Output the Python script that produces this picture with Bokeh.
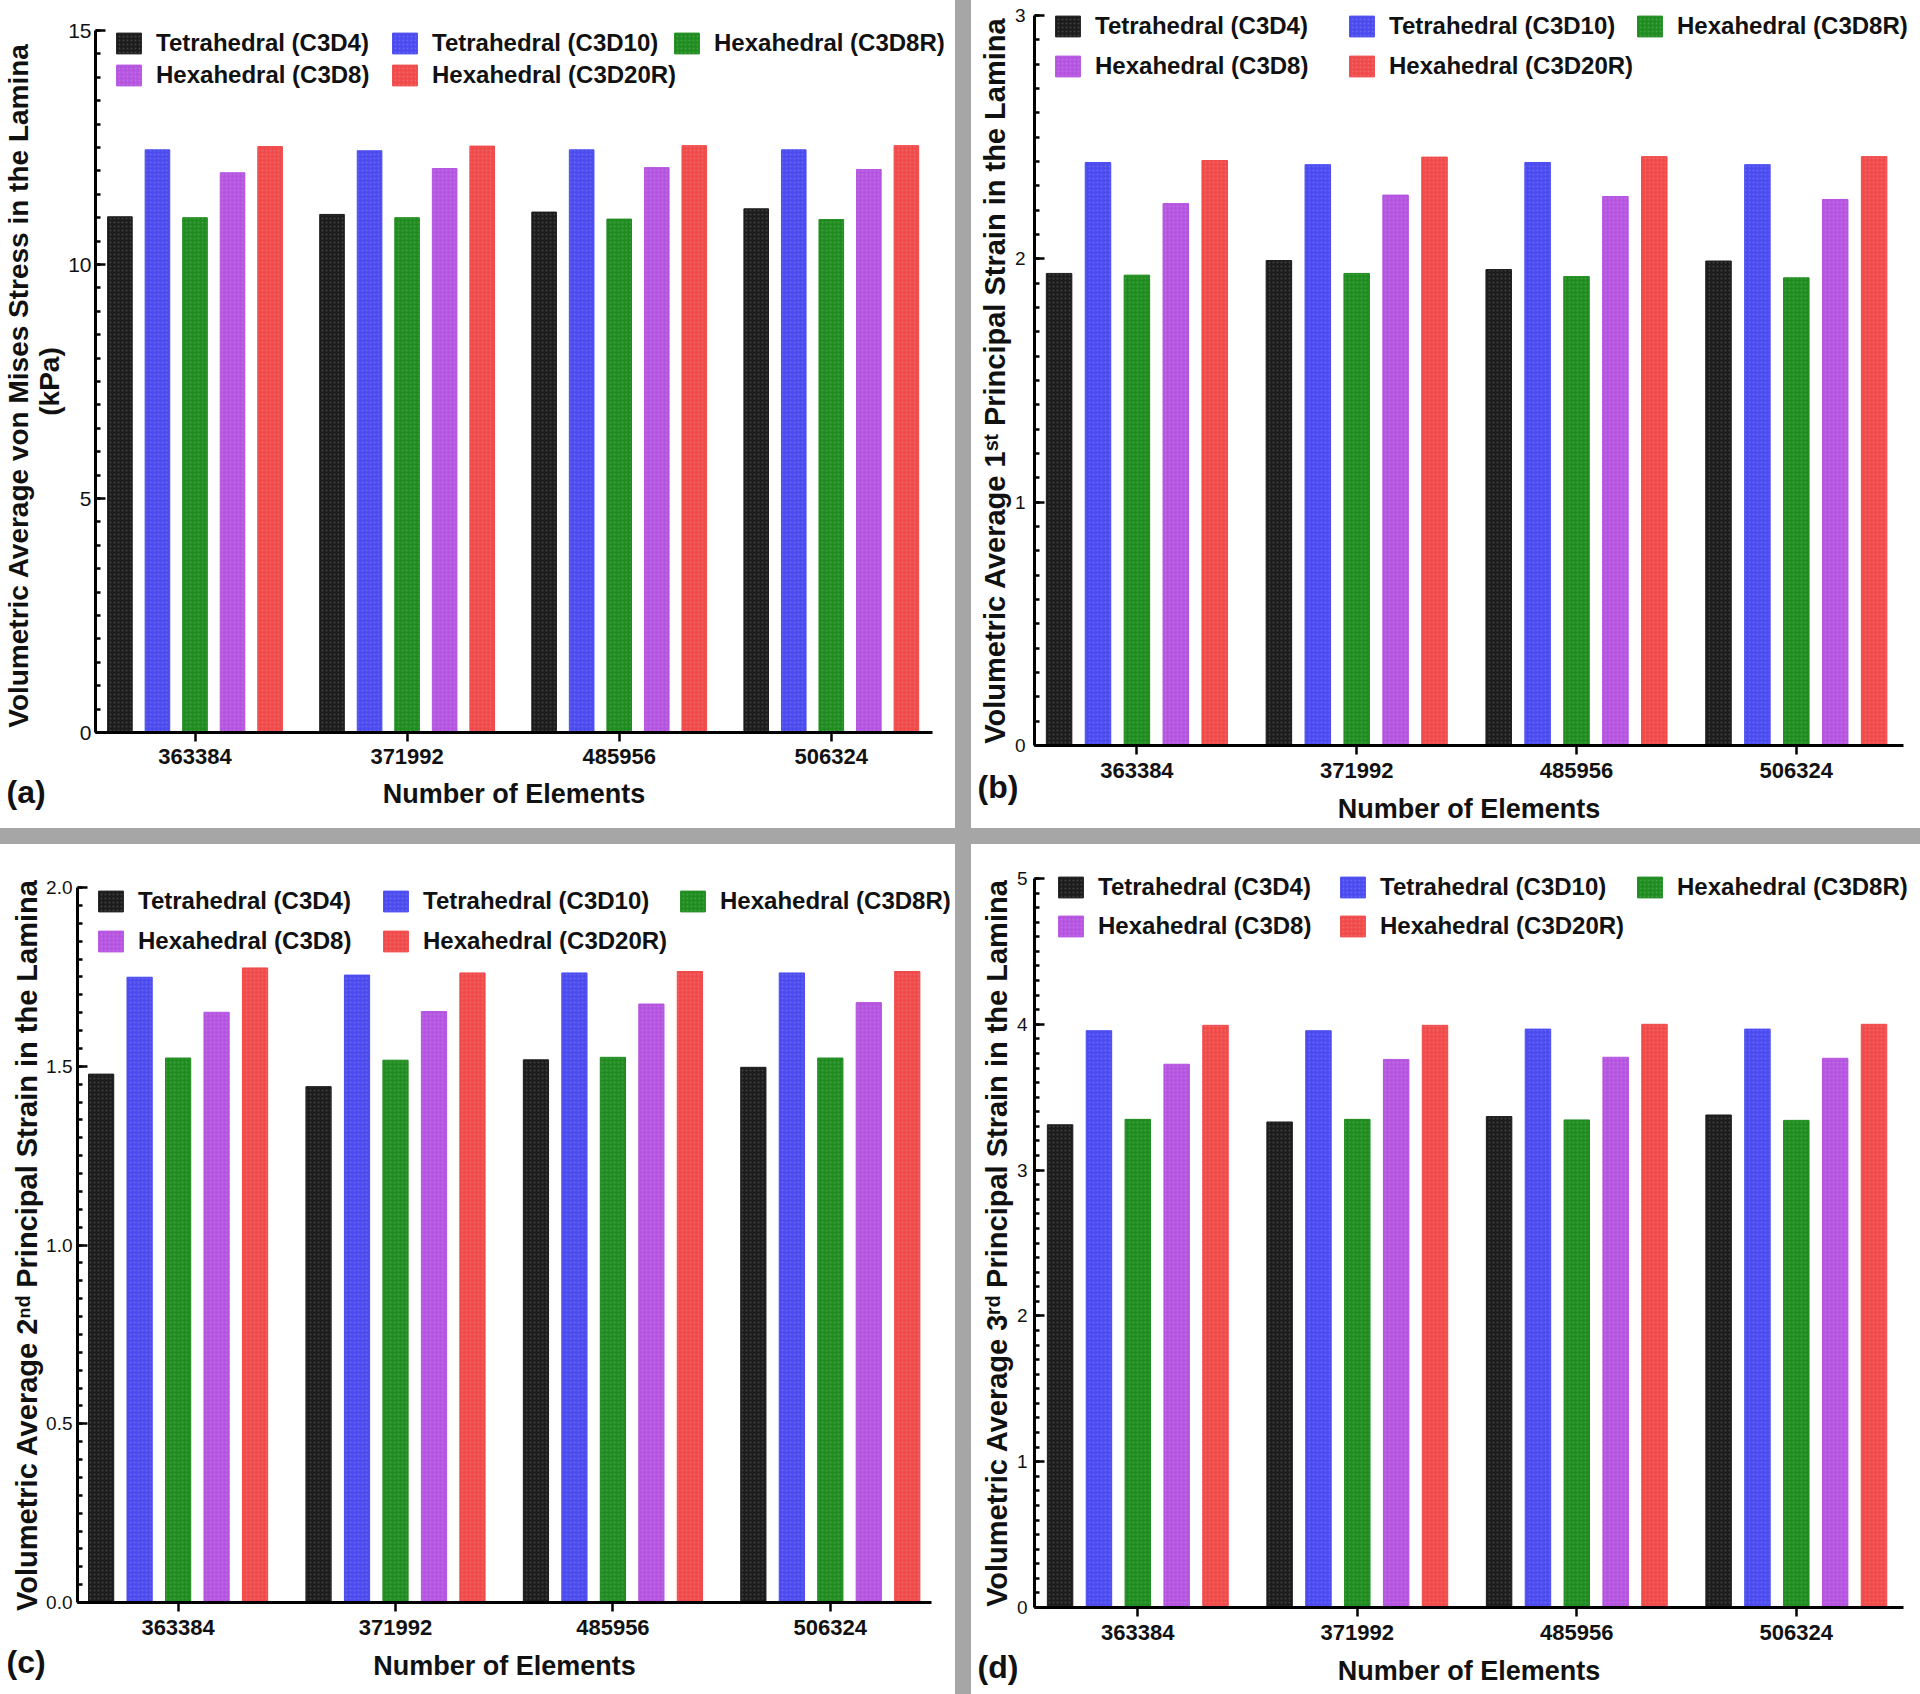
from bokeh.plotting import figure
from bokeh.models import (ColumnDataSource, Range1d, FixedTicker, SingleIntervalTicker,
                          Legend, LegendItem, Label, Spacer, PrintfTickFormatter)
from bokeh.layouts import row, column
from bokeh.embed import file_html
from bokeh.resources import INLINE

# ---------------- data ----------------
categories = ["363384", "371992", "485956", "506324"]
series_names = ["Tetrahedral (C3D4)", "Tetrahedral (C3D10)", "Hexahedral (C3D8R)",
                "Hexahedral (C3D8)", "Hexahedral (C3D20R)"]
series_colors = ["#1c1c1c", "#4b4bf0", "#1f8c1f", "#b554e0", "#f04a4a"]

# (a) volumetric average von Mises stress (kPa)
vm_c3d4 = [11.02, 11.07, 11.12, 11.19]
vm_c3d10 = [12.45, 12.43, 12.45, 12.45]
vm_c3d8r = [11.00, 11.00, 10.97, 10.96]
vm_c3d8 = [11.96, 12.05, 12.07, 12.03]
vm_c3d20r = [12.52, 12.53, 12.54, 12.54]

# (b) 1st principal strain
e1_c3d4 = [1.940, 1.993, 1.956, 1.991]
e1_c3d10 = [2.396, 2.387, 2.396, 2.387]
e1_c3d8r = [1.933, 1.940, 1.927, 1.922]
e1_c3d8 = [2.227, 2.262, 2.256, 2.244]
e1_c3d20r = [2.404, 2.418, 2.420, 2.420]

# (c) 2nd principal strain
e2_c3d4 = [1.478, 1.443, 1.518, 1.497]
e2_c3d10 = [1.749, 1.755, 1.761, 1.761]
e2_c3d8r = [1.523, 1.517, 1.525, 1.523]
e2_c3d8 = [1.651, 1.653, 1.674, 1.678]
e2_c3d20r = [1.775, 1.761, 1.765, 1.765]

# (d) 3rd principal strain
e3_c3d4 = [3.311, 3.330, 3.367, 3.378]
e3_c3d10 = [3.956, 3.956, 3.967, 3.967]
e3_c3d8r = [3.348, 3.348, 3.344, 3.341]
e3_c3d8 = [3.726, 3.759, 3.774, 3.767]
e3_c3d20r = [3.993, 3.993, 4.000, 4.000]

x_title = "Number of Elements"
y_title_a = "Volumetric Average von  Mises Stress in the Lamina\n(kPa)"
y_title_b = "Volumetric Average 1\u02e2\u1d57 Principal Strain in the Lamina"
y_title_c = "Volumetric Average 2\u207f\u1d48 Principal Strain in the Lamina"
y_title_d = "Volumetric Average 3\u02b3\u1d48 Principal Strain in the Lamina"

# ---------------- style ----------------
FONT = "Liberation Sans"
GRAY = "#a6a6a6"
TXT = "#111111"
OFFSETS = [-0.354, -0.177, 0.0, 0.177, 0.354]
BAR_W = 0.116
ITEM_H = 30


def make_panel(vals, ymax, interval, n_minor, fmt, ylabel, letter, geo, leg_cols, leg_rows,
               ytick_size, ytick_std, ylab_size, ylab_std, ylab_lh, xtick_std, xlab_std,
               letter_xy):
    W, H, ax_left, ax_right, y0_px, ytop_px, g0_px, g_step = geo
    ppu = (y0_px - ytop_px) / ymax
    y_rng = Range1d(-(H - y0_px) / ppu, ymax + ytop_px / ppu)
    x_rng = Range1d(-g0_px / g_step, (W - g0_px) / g_step)
    y_axis_at = (ax_left - g0_px) / g_step
    x_axis_end = (ax_right - g0_px) / g_step

    p = figure(width=W, height=H, x_range=x_rng, y_range=y_rng,
               output_backend="svg", toolbar_location=None, tools="",
               min_border_left=0, min_border_right=0, min_border_top=0, min_border_bottom=0)
    p.min_border = 0
    p.xgrid.visible = False
    p.ygrid.visible = False
    p.outline_line_color = None
    p.background_fill_color = "white"
    p.border_fill_color = "white"

    rends = []
    for j, (name, color, v) in enumerate(zip(series_names, series_colors, vals)):
        src = ColumnDataSource(dict(x=[i + OFFSETS[j] for i in range(len(categories))], top=v))
        r = p.vbar(x="x", top="top", width=BAR_W, bottom=0, source=src,
                   fill_color=color, line_color=color, line_width=1,
                   hatch_pattern="dot", hatch_scale=4, hatch_weight=1,
                   hatch_color="white", hatch_alpha=0.16)
        rends.append(r)

    # x axis (sits on y = 0)
    xa = p.xaxis[0]
    xa.fixed_location = 0
    xa.bounds = (y_axis_at, x_axis_end)
    xa.ticker = FixedTicker(ticks=list(range(len(categories))))
    xa.major_label_overrides = {i: c for i, c in enumerate(categories)}
    xa.minor_tick_line_color = None
    xa.major_tick_in = 0
    xa.major_tick_out = 9
    xa.major_tick_line_width = 2.5
    xa.axis_line_width = 3
    xa.major_label_text_font = FONT
    xa.major_label_text_font_size = "22px"
    xa.major_label_text_font_style = "bold"
    xa.major_label_text_color = TXT
    xa.major_label_standoff = xtick_std
    xa.axis_label = x_title
    xa.axis_label_text_font = FONT
    xa.axis_label_text_font_size = "27px"
    xa.axis_label_text_font_style = "bold"
    xa.axis_label_text_color = TXT
    xa.axis_label_standoff = xlab_std

    # y axis
    ya = p.yaxis[0]
    ya.fixed_location = y_axis_at
    ya.bounds = (0, ymax)
    ya.ticker = SingleIntervalTicker(interval=interval, num_minor_ticks=n_minor)
    ya.formatter = PrintfTickFormatter(format=fmt)
    ya.major_tick_in = 10
    ya.major_tick_out = 0
    ya.minor_tick_in = 5
    ya.minor_tick_out = 0
    ya.major_tick_line_width = 2.5
    ya.minor_tick_line_width = 2.5
    ya.axis_line_width = 3
    ya.major_label_text_font = FONT
    ya.major_label_text_font_size = ytick_size
    ya.major_label_text_color = TXT
    ya.major_label_standoff = ytick_std
    ya.axis_label = ylabel
    ya.axis_label_text_font = FONT
    ya.axis_label_text_font_size = ylab_size
    ya.axis_label_text_font_style = "bold"
    ya.axis_label_text_color = TXT
    ya.axis_label_standoff = ylab_std
    ya.axis_label_text_line_height = ylab_lh

    # legend: one entry per cell of a 3-column grid
    for k, r in enumerate(rends):
        rr, cc = divmod(k, 3)
        vx = leg_cols[cc] - 3
        vy = H - leg_rows[rr] - ITEM_H / 2
        leg = Legend(items=[LegendItem(label=series_names[k], renderers=[r])],
                     location=(vx, vy), orientation="vertical",
                     border_line_color=None, background_fill_alpha=0,
                     padding=0, margin=0, spacing=0,
                     glyph_width=31, glyph_height=26, label_height=ITEM_H,
                     label_standoff=12,
                     label_text_font=FONT, label_text_font_size="24px",
                     label_text_font_style="bold", label_text_color=TXT)
        p.add_layout(leg)

    p.add_layout(Label(x=letter_xy[0], y=letter_xy[1], x_units="screen", y_units="screen",
                       text=letter, text_font=FONT, text_font_size="32px",
                       text_font_style="bold", text_color=TXT,
                       text_baseline="middle", text_align="left"))
    return p


# geometry per panel: canvas W, H, y-axis x, x-axis right end, y=0 px, y=max px,
# first group centre px, group step px (all in the panel's own pixels)
pa = make_panel([vm_c3d4, vm_c3d10, vm_c3d8r, vm_c3d8, vm_c3d20r], 15, 5, 10, "%d",
                y_title_a, "(a)", (955, 828, 95, 932, 732, 30, 194.5, 212.1),
                [116, 392, 674], [42.5, 74.5], "21px", 4, "28px", 0, 1.0, 7, 12, (6, 37))
pb = make_panel([e1_c3d4, e1_c3d10, e1_c3d8r, e1_c3d8, e1_c3d20r], 3, 1, 10, "%d",
                y_title_b, "(b)", (949, 828, 63, 932, 745, 15, 165.4, 219.8),
                [84, 378, 666], [25.5, 66], "19px", 9, "29px", 1, 1.2, 8, 13, (6, 42))
pc = make_panel([e2_c3d4, e2_c3d10, e2_c3d8r, e2_c3d8, e2_c3d20r], 2.0, 0.5, 10, "%.1f",
                y_title_c, "(c)", (955, 850, 77, 931, 758, 43, 177.6, 217.4),
                [98, 383, 680], [56.5, 97], "19px", 5, "29px", 0, 1.2, 8, 13, (6, 33))
pd_ = make_panel([e3_c3d4, e3_c3d10, e3_c3d8r, e3_c3d8, e3_c3d20r], 5, 1, 10, "%d",
                 y_title_d, "(d)", (949, 850, 63, 932, 763, 34, 166.3, 219.5),
                 [87, 369, 666], [43, 82], "19px", 7, "29px", 1, 1.2, 8, 13, (6, 28))

vsep1 = Spacer(width=16, height=828, styles={"background-color": GRAY})
vsep2 = Spacer(width=16, height=850, styles={"background-color": GRAY})
hsep = Spacer(width=1920, height=16, styles={"background-color": GRAY})

layout = column(row(pa, vsep1, pb), hsep, row(pc, vsep2, pd_))

open("out.html", "w").write(file_html(layout, INLINE))
